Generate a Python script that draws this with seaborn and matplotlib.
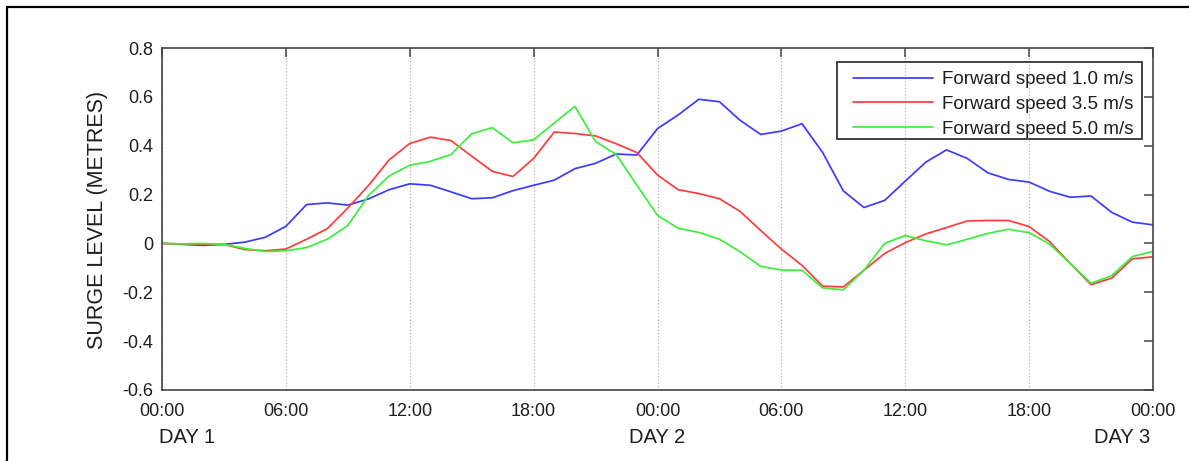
import numpy as np
import pandas as pd
import matplotlib
matplotlib.use("Agg")
import matplotlib.pyplot as plt
from matplotlib.lines import Line2D
from matplotlib.patches import Rectangle
import seaborn as sns

hours = list(range(49))
speed_1_0 = [0, -0.004, -0.008, -0.004, 0.005, 0.025, 0.07, 0.159, 0.166, 0.157,
             0.182, 0.22, 0.244, 0.238, 0.211, 0.183, 0.187, 0.216, 0.238, 0.259,
             0.306, 0.328, 0.366, 0.362, 0.47, 0.526, 0.59, 0.58, 0.504, 0.446,
             0.46, 0.49, 0.372, 0.215, 0.147, 0.176, 0.255, 0.333, 0.383, 0.348,
             0.289, 0.262, 0.251, 0.213, 0.189, 0.194, 0.127, 0.087, 0.076]
speed_3_5 = [0, -0.002, -0.004, -0.004, -0.025, -0.03, -0.023, 0.017, 0.06, 0.145,
             0.237, 0.342, 0.409, 0.435, 0.421, 0.357, 0.295, 0.274, 0.348, 0.456,
             0.45, 0.44, 0.408, 0.372, 0.28, 0.22, 0.204, 0.183, 0.131, 0.053,
             -0.023, -0.09, -0.175, -0.178, -0.11, -0.041, 0.003, 0.039, 0.065, 0.092,
             0.094, 0.094, 0.069, 0.007, -0.083, -0.169, -0.142, -0.063, -0.055]
speed_5_0 = [0, -0.002, 0, -0.004, -0.02, -0.033, -0.03, -0.017, 0.017, 0.073,
             0.196, 0.276, 0.32, 0.336, 0.364, 0.449, 0.474, 0.412, 0.424, 0.493,
             0.561, 0.417, 0.364, 0.238, 0.115, 0.062, 0.045, 0.017, -0.034, -0.094,
             -0.109, -0.11, -0.182, -0.19, -0.11, 0.0, 0.032, 0.011, -0.006, 0.017,
             0.041, 0.058, 0.044, -0.003, -0.083, -0.163, -0.132, -0.054, -0.032]
series_names = ["Forward speed 1.0 m/s", "Forward speed 3.5 m/s", "Forward speed 5.0 m/s"]
series_colors = ["#3b3bff", "#ff3b3b", "#3bef3b"]
xtick_labels = ["00:00", "06:00", "12:00", "18:00", "00:00", "06:00", "12:00", "18:00", "00:00"]
ytick_vals = [-0.6, -0.4, -0.2, 0, 0.2, 0.4, 0.6, 0.8]
ytick_labels = ["-0.6", "-0.4", "-0.2", "0", "0.2", "0.4", "0.6", "0.8"]
day_labels = ["DAY 1", "DAY 2", "DAY 3"]
y_title = "SURGE LEVEL (METRES)"

frames = []
for name, vals in zip(series_names, [speed_1_0, speed_3_5, speed_5_0]):
    frames.append(pd.DataFrame({"hour": hours, "surge": vals, "series": name}))
df = pd.concat(frames, ignore_index=True)

sns.set_style("white")
plt.rcParams["font.family"] = ["Liberation Sans", "DejaVu Sans"]
plt.rcParams["axes.unicode_minus"] = False

W, H = 1189, 461
fig = plt.figure(figsize=(W/100, H/100), dpi=100)
ax_l, ax_r, ax_t, ax_b = 162, 1153, 48, 390
ax = fig.add_axes([ax_l/W, 1-ax_b/H, (ax_r-ax_l)/W, (ax_b-ax_t)/H])

sns.lineplot(data=df, x="hour", y="surge", hue="series", hue_order=series_names,
             palette=series_colors, linewidth=1.25, ax=ax, legend=True)

txt = "#1e1e1e"
ax.set_xlim(0, 48)
ax.set_ylim(-0.6, 0.8)
ax.set_xticks(range(0, 49, 6))
ax.set_xticklabels(xtick_labels, fontsize=13, color=txt)
ax.set_yticks(ytick_vals)
ax.set_yticklabels(ytick_labels, fontsize=13, color=txt)
ax.tick_params(direction="in", length=6.5, width=1.1, color="#444444",
               top=True, right=True)
ax.tick_params(axis="y", pad=6.5)
ax.tick_params(axis="x", pad=9.5)
for sp in ax.spines.values():
    sp.set_color("#444444")
    sp.set_linewidth(1.2)
ax.xaxis.grid(True, linestyle=":", color="#b5b5b5", linewidth=0.9)
ax.yaxis.grid(False)
ax.set_xlabel("")
ax.set_ylabel("")

def ax_frac(px, py):
    return ((px - ax_l) / (ax_r - ax_l), (ax_b - py) / (ax_b - ax_t))

leg = ax.legend(loc="upper left", fontsize=13.5, frameon=False,
                borderpad=0, handlelength=4.27, handletextpad=0.47,
                labelspacing=0.41, borderaxespad=0,
                bbox_to_anchor=ax_frac(853, 71))
for t in leg.get_texts():
    t.set_color(txt)
for ln in leg.get_lines():
    ln.set_linewidth(1.25)

fx0, fy0 = ax_frac(837, 139)
fx1, fy1 = ax_frac(1142, 62)
ax.add_patch(Rectangle((fx0, fy0), fx1 - fx0, fy1 - fy0, transform=ax.transAxes,
                       fill=False, edgecolor="#333333", linewidth=1.3, zorder=6))

fig.text(98/W, 1-219.5/H, y_title, fontsize=15.5, rotation=90, ha="center", va="center", color=txt)
fig.text(159/W, 1-437/H, day_labels[0], fontsize=14.5, ha="left", va="center", color=txt)
fig.text(657/W, 1-437/H, day_labels[1], fontsize=14.5, ha="center", va="center", color=txt)
fig.text(1150/W, 1-437/H, day_labels[2], fontsize=14.5, ha="right", va="center", color=txt)

fig.add_artist(Line2D([7/W, 7/W], [-0.05, 1-7/H], transform=fig.transFigure,
                      color="black", linewidth=1.6))
fig.add_artist(Line2D([7/W, 1.05], [1-7/H, 1-7/H], transform=fig.transFigure,
                      color="black", linewidth=1.6))

fig.savefig("out.png", dpi=100)
